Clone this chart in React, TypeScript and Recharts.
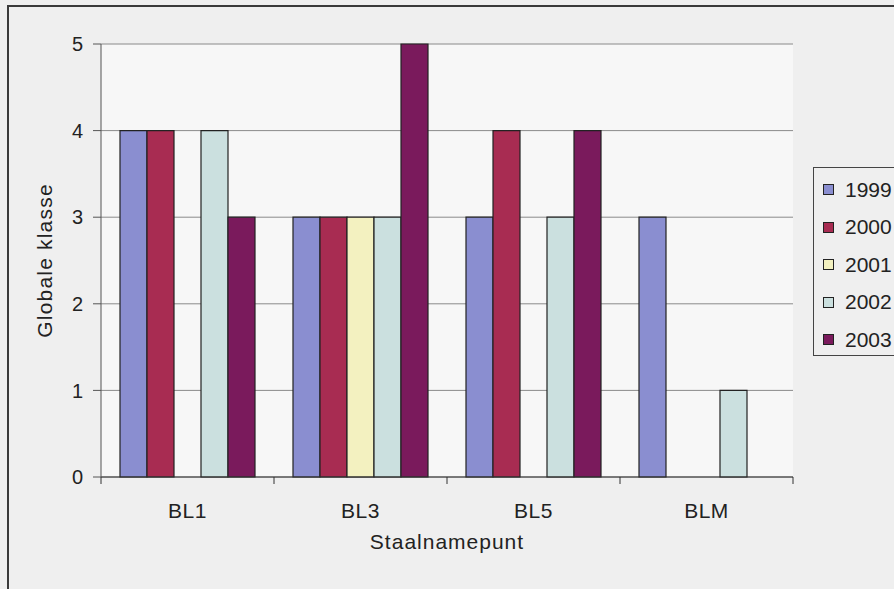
import { BarChart, Bar, XAxis, YAxis, CartesianGrid } from 'recharts';

const categories = ['BL1', 'BL3', 'BL5', 'BLM'];
const years = ['1999', '2000', '2001', '2002', '2003'];
const v1999 = [4, 3, 3, 3];
const v2000 = [4, 3, 4, 0];
const v2001 = [0, 3, 0, 0];
const v2002 = [4, 3, 3, 1];
const v2003 = [3, 5, 4, 0];
const yTicks = [0, 1, 2, 3, 4, 5];

const colors = ['#8a8ed0', '#a82c52', '#f3f1c0', '#cbe0df', '#7a1a5c'];
const series = [v1999, v2000, v2001, v2002, v2003];

const data = categories.map((c, i) => {
  const row: Record<string, any> = { name: c };
  years.forEach((y, k) => {
    row[y] = series[k][i];
  });
  return row;
});

const W = 894;
const H = 589;
const M = { top: 44, right: 101, left: 0, bottom: 38 };
const Y_W = 101;
const X_H = 74;
const band = (W - Y_W - M.right) / categories.length;

const font = 'Arial, "Liberation Sans", sans-serif';

const XTick = (props: any) => {
  const { x, y, payload, index } = props;
  return (
    <g>
      <line x1={x - band / 2} x2={x - band / 2} y1={y - 8} y2={y - 1} stroke="#333" />
      {index === categories.length - 1 && (
        <line x1={x + band / 2} x2={x + band / 2} y1={y - 8} y2={y - 1} stroke="#333" />
      )}
      <text x={x} y={y + 33} textAnchor="middle" fontSize={21} fill="#222" fontFamily={font} letterSpacing={0.5}>
        {payload.value}
      </text>
    </g>
  );
};

export default function App() {
  return (
    <div style={{ position: 'fixed', left: 0, top: 0, width: W, height: H, background: '#efefef', overflow: 'hidden', fontFamily: font }}>
      <div style={{ position: 'absolute', left: 7, top: 5, width: 920, height: 620, border: '2px solid #3a3a3a' }} />
      <BarChart
        width={W}
        height={H}
        data={data}
        margin={M}
        barGap={0}
        barCategoryGap={19}
      >
        <CartesianGrid vertical={false} stroke="#8a8a8a" fill="#f7f7f7" fillOpacity={1} />
        <XAxis
          dataKey="name"
          height={X_H}
          axisLine={{ stroke: '#333' }}
          tickLine={false}
          tick={<XTick />}
          interval={0}
          label={{ value: 'Staalnamepunt', position: 'insideBottom', offset: 2, fontSize: 21, fill: '#222', fontFamily: font, letterSpacing: 1 }}
        />
        <YAxis
          width={Y_W}
          domain={[0, 5]}
          ticks={yTicks}
          interval={0}
          axisLine={{ stroke: '#555' }}
          tickLine={{ stroke: '#555' }}
          tickSize={8}
          tickMargin={10}
          tick={{ fontSize: 20, fill: '#222', fontFamily: font }}
          label={{ value: 'Globale klasse', angle: -90, position: 'insideLeft', offset: 45, fontSize: 21, fill: '#222', fontFamily: font, letterSpacing: 1.2, style: { textAnchor: 'middle' } }}
        />
        <YAxis yAxisId="r" orientation="right" width={0} tick={false} tickLine={false} axisLine={{ stroke: '#999' }} />
        {years.map((y, k) => (
          <Bar key={y} dataKey={y} fill={colors[k]} stroke="#222" strokeWidth={1.2} isAnimationActive={false} />
        ))}
      </BarChart>
      <div style={{ position: 'absolute', left: 813, top: 167, width: 100, height: 189, border: '1px solid #444', boxSizing: 'border-box' }}>
        {years.map((y, k) => (
          <div key={y} style={{ display: 'flex', alignItems: 'center', height: 37.5, marginTop: k === 0 ? 3 : 0 }}>
            <div style={{ width: 9, height: 9, background: colors[k], border: '1px solid #222', marginLeft: 9, marginRight: 11 }} />
            <span style={{ fontSize: 21, color: '#222' }}>{y}</span>
          </div>
        ))}
      </div>
    </div>
  );
}
